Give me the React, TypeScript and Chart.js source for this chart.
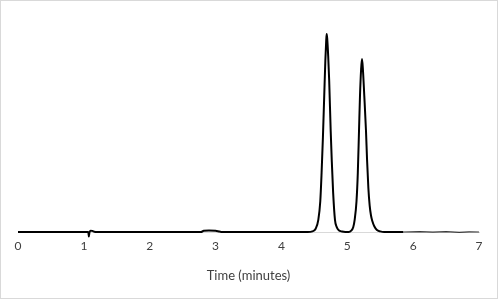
import React, { useEffect, useRef } from "react";
import { Chart, registerables } from "chart.js";

Chart.register(...registerables);

// Retention time (minutes) and detector signal (relative units)
const times = [
  0, 1.05, 1.068, 1.075, 1.085, 1.1, 1.13, 1.16, 1.2,
  2.78, 2.82, 2.9, 3.0, 3.06, 3.1,
  4.4, 4.47, 4.52, 4.56, 4.59, 4.61, 4.63, 4.65, 4.667, 4.68, 4.687, 4.695, 4.71, 4.725, 4.748, 4.765, 4.785, 4.813, 4.84, 4.87, 4.92, 4.97,
  5.02, 5.06, 5.09, 5.112, 5.14, 5.16, 5.178, 5.193, 5.21, 5.223, 5.235, 5.258, 5.284, 5.30, 5.32, 5.34, 5.36, 5.38, 5.41, 5.45, 5.5, 5.56,
  5.85,
];
const signal = [
  0, 0, 0, -2.0, -0.2, 0.6, 0.5, 0.1, 0,
  0, 0.6, 0.7, 0.6, 0.2, 0,
  0, 0.3, 1.5, 5.5, 14, 27, 43, 62, 78, 87, 90, 88, 80, 69, 46, 32, 18, 5.5, 2.2, 0.8, 0.2, 0,
  0, 0.6, 2.2, 5.5, 14, 27, 46, 62, 74, 78.6, 75, 62, 46, 33, 20, 12, 7.5, 5, 2.6, 0.9, 0.3, 0,
  0,
];
// Noisy, thinner trace at the end of the run
const tailTimes = [5.85, 6.1, 6.3, 6.5, 6.7, 6.85, 7.0];
const tailSignal = [0, 0.15, -0.1, 0.2, -0.15, 0.1, 0];

const xTicks = [0, 1, 2, 3, 4, 5, 6, 7];
const xTitle = "Time (minutes)";

const borderPlugin = {
  id: "outerBorder",
  afterDraw(chart: any) {
    const ctx = chart.ctx;
    ctx.save();
    ctx.strokeStyle = "#d9d9d9";
    ctx.lineWidth = 1;
    ctx.strokeRect(0.5, 0.5, 497, 298);
    ctx.restore();
  },
};

export default function App() {
  const ref = useRef<HTMLCanvasElement | null>(null);
  useEffect(() => {
    if (!ref.current) return;
    const chart = new Chart(ref.current, {
      type: "line",
      data: {
        datasets: [
          {
            data: times.map((t, i) => ({ x: t, y: signal[i] })),
            borderColor: "#000000",
            borderWidth: 2,
            pointRadius: 0,
            cubicInterpolationMode: "monotone",
            clip: false as any,
          },
          {
            data: tailTimes.map((t, i) => ({ x: t, y: tailSignal[i] })),
            borderColor: "#3a3a3a",
            borderWidth: 1.2,
            pointRadius: 0,
            clip: false as any,
          },
        ],
      },
      options: {
        animation: false,
        responsive: false,
        maintainAspectRatio: false,
        layout: { padding: { left: 18, right: 20, top: 12, bottom: 0 } },
        plugins: { legend: { display: false }, tooltip: { enabled: false } },
        scales: {
          x: {
            type: "linear",
            min: 0,
            max: 7,
            afterBuildTicks: (s: any) => {
              s.ticks = xTicks.map((v) => ({ value: v }));
            },
            grid: { display: false, drawTicks: false },
            border: { display: true, color: "#d9d9d9", width: 1 },
            ticks: {
              padding: 7,
              color: "#404040",
              font: { family: "Lato", size: 12 },
              maxRotation: 0,
            },
            title: {
              display: true,
              text: xTitle,
              color: "#404040",
              font: { family: "Lato", size: 13 },
              padding: { top: 8, bottom: 16 },
            },
          },
          y: { display: false, min: 0, max: 100 },
        },
      },
      plugins: [borderPlugin],
    });
    return () => chart.destroy();
  }, []);
  return (
    <div style={{ position: "absolute", left: 0, top: 0, width: 499, height: 300, background: "#fff" }}>
      <canvas ref={ref} width={499} height={300} style={{ display: "block" }} />
    </div>
  );
}
